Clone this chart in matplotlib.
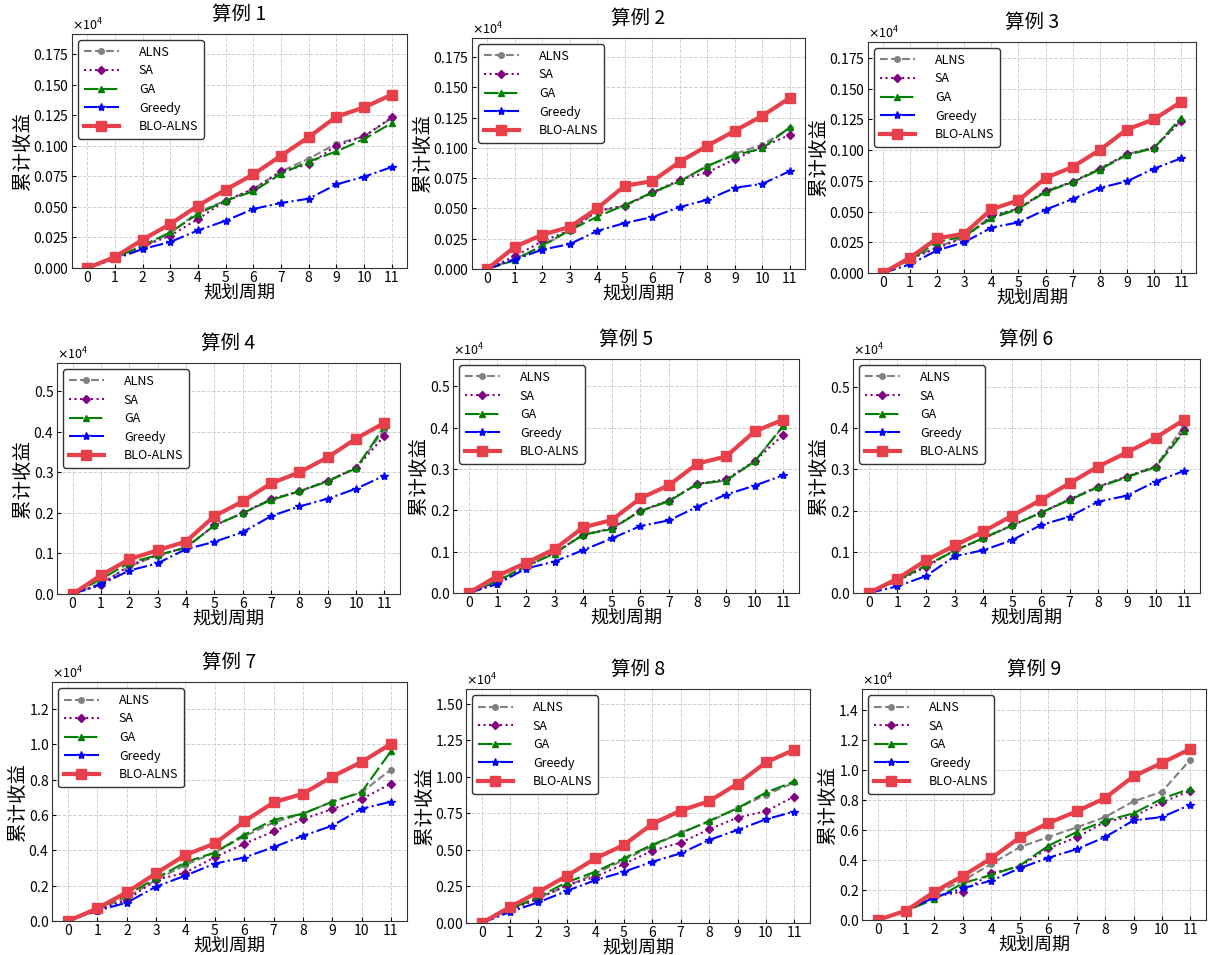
import matplotlib
matplotlib.use("Agg")
import matplotlib.pyplot as plt

plt.rcParams['font.family'] = ['Noto Sans CJK SC', 'DejaVu Sans']
plt.rcParams['axes.unicode_minus'] = False

periods = list(range(12))
methods = ['ALNS', 'SA', 'GA', 'Greedy', 'BLO-ALNS']

# cumulative revenue per case
alns = [
    [0, 82, 172, 286, 458, 551, 646, 790, 894, 1017, 1077, 1227],
    [0, 83, 187, 319, 476, 523, 627, 729, 848, 952, 1026, 1164],
    [0, 117, 212, 293, 461, 524, 667, 741, 849, 966, 1020, 1237],
    [0, 264, 675, 955, 1145, 1689, 1993, 2339, 2529, 2792, 3105, 4053],
    [0, 307, 647, 971, 1408, 1561, 1982, 2233, 2638, 2718, 3188, 4029],
    [0, 308, 657, 1039, 1323, 1640, 1948, 2273, 2581, 2825, 3068, 4058],
    [0, 624, 1342, 2325, 3176, 3875, 4783, 5577, 6068, 6749, 7278, 8563],
    [0, 916, 1740, 2519, 3389, 4305, 5267, 6183, 6938, 7854, 8770, 9617],
    [0, 625, 1741, 2634, 3750, 4866, 5536, 6183, 6875, 7924, 8571, 10714],
]
sa = [
    [0, 82, 177, 264, 401, 551, 646, 790, 848, 1000, 1077, 1232],
    [0, 105, 228, 319, 481, 523, 633, 737, 798, 908, 1010, 1109],
    [0, 114, 203, 288, 461, 524, 667, 741, 849, 966, 1020, 1237],
    [0, 222, 708, 955, 1145, 1689, 1993, 2339, 2529, 2792, 3105, 3896],
    [0, 243, 631, 971, 1408, 1561, 1982, 2233, 2638, 2751, 3188, 3827],
    [0, 292, 633, 1039, 1323, 1640, 1948, 2273, 2581, 2825, 3068, 3961],
    [0, 624, 1191, 2325, 2741, 3611, 4367, 5066, 5766, 6333, 6900, 7769],
    [0, 870, 1672, 2588, 3160, 4030, 4946, 5496, 6412, 7213, 7648, 8656],
    [0, 625, 1563, 1897, 3125, 3571, 4799, 5513, 6563, 6920, 7857, 8638],
]
ga = [
    [0, 82, 183, 292, 442, 551, 627, 771, 870, 954, 1055, 1186],
    [0, 72, 195, 319, 432, 528, 633, 724, 853, 941, 996, 1172],
    [0, 109, 252, 298, 445, 521, 659, 738, 841, 960, 1015, 1264],
    [0, 362, 774, 955, 1145, 1689, 1993, 2315, 2529, 2776, 3097, 4135],
    [0, 283, 647, 955, 1408, 1545, 1982, 2217, 2638, 2718, 3180, 4045],
    [0, 308, 674, 1023, 1339, 1640, 1948, 2256, 2565, 2808, 3052, 3920],
    [0, 699, 1474, 2420, 3327, 3875, 4877, 5728, 6068, 6749, 7297, 9603],
    [0, 962, 1786, 2794, 3503, 4420, 5358, 6137, 6984, 7854, 8930, 9686],
    [0, 625, 1384, 2455, 3013, 3638, 4955, 5871, 6629, 7121, 8103, 8772],
]
greedy = [
    [0, 74, 155, 213, 308, 387, 483, 532, 567, 684, 747, 826],
    [0, 77, 160, 206, 314, 380, 429, 512, 572, 671, 704, 809],
    [0, 71, 184, 250, 369, 412, 515, 602, 692, 746, 849, 933],
    [0, 239, 577, 758, 1104, 1285, 1524, 1919, 2158, 2348, 2595, 2916],
    [0, 218, 591, 761, 1036, 1319, 1618, 1756, 2087, 2379, 2597, 2848],
    [0, 162, 414, 893, 1039, 1282, 1648, 1851, 2216, 2362, 2703, 2963],
    [0, 586, 1040, 1947, 2571, 3251, 3592, 4178, 4820, 5388, 6352, 6749],
    [0, 756, 1420, 2198, 2931, 3503, 4190, 4763, 5679, 6366, 7099, 7625],
    [0, 625, 1518, 2121, 2634, 3460, 4152, 4732, 5536, 6652, 6875, 7701],
]
blo_alns = [
    [0, 90, 232, 360, 510, 641, 766, 919, 1071, 1238, 1314, 1418],
    [0, 182, 283, 347, 501, 688, 726, 886, 1018, 1142, 1266, 1414],
    [0, 125, 282, 320, 518, 591, 773, 863, 1001, 1167, 1251, 1392],
    [0, 461, 857, 1079, 1293, 1919, 2282, 2727, 2998, 3369, 3830, 4217],
    [0, 413, 728, 1060, 1586, 1764, 2290, 2605, 3131, 3301, 3908, 4191],
    [0, 349, 795, 1153, 1494, 1875, 2256, 2662, 3068, 3409, 3766, 4205],
    [0, 718, 1626, 2703, 3743, 4386, 5633, 6711, 7202, 8166, 8998, 10019],
    [0, 1099, 2130, 3229, 4420, 5336, 6778, 7694, 8335, 9526, 10991, 11861],
    [0, 625, 1897, 2946, 4129, 5513, 6473, 7254, 8147, 9598, 10491, 11429],
]

styles = [
    dict(color='gray', ls='--', marker='o', ms=4, lw=1.5),
    dict(color='purple', ls=':', marker='D', ms=4.5, lw=1.5),
    dict(color='green', ls=(0, (7, 2)), marker='^', ms=4.5, lw=1.5),
    dict(color='blue', ls='-.', marker='*', ms=6, lw=1.5),
    dict(color='#e8404a', ls='-', marker='s', ms=7, lw=3),
]

# axes boxes in pixels: left, right, top, bottom
boxes = [
    (72, 407, 34, 268), (472, 805, 38, 269), (868, 1196, 42, 273),
    (57, 400, 363, 594), (453, 799, 359, 593), (853, 1200, 359, 593),
    (52, 407, 682, 921), (466, 810, 689, 923), (862, 1206, 689, 920),
]

W, H = 1208, 955
fig = plt.figure(figsize=(W / 100, H / 100), dpi=100)

for i in range(9):
    l, r, t, b = boxes[i]
    ax = fig.add_axes([l / W, 1 - b / H, (r - l) / W, (b - t) / H])
    series = [alns[i], sa[i], ga[i], greedy[i], blo_alns[i]]
    for name, vals, st in zip(methods, series, styles):
        ax.plot(periods, vals, label=name, **st)
    ax.set_ylim(0, max(blo_alns[i]) * 1.35)
    ax.set_xticks(periods)
    ax.ticklabel_format(axis='y', style='sci', scilimits=(4, 4),
                        useMathText=True)
    ax.yaxis.get_offset_text().set_fontsize(9)
    ax.tick_params(direction='in', labelsize=10, length=3, pad=2)
    ax.grid(True, ls='--', color='#d0d0d0', lw=0.7)
    for sp in ax.spines.values():
        sp.set_color('#333333')
    ax.set_title(f'算例 {i + 1}', fontsize=14, pad=10)
    ax.set_xlabel('规划周期', fontsize=13, labelpad=-1)
    ax.set_ylabel('累计收益', fontsize=14, labelpad=0)
    leg = ax.legend(loc='upper left', fontsize=9, handlelength=2.8,
                    labelspacing=0.45, borderpad=0.45, handletextpad=1.6,
                    fancybox=True, framealpha=1)
    leg.get_frame().set_edgecolor('#333333')

fig.savefig('out.png', dpi=100)
